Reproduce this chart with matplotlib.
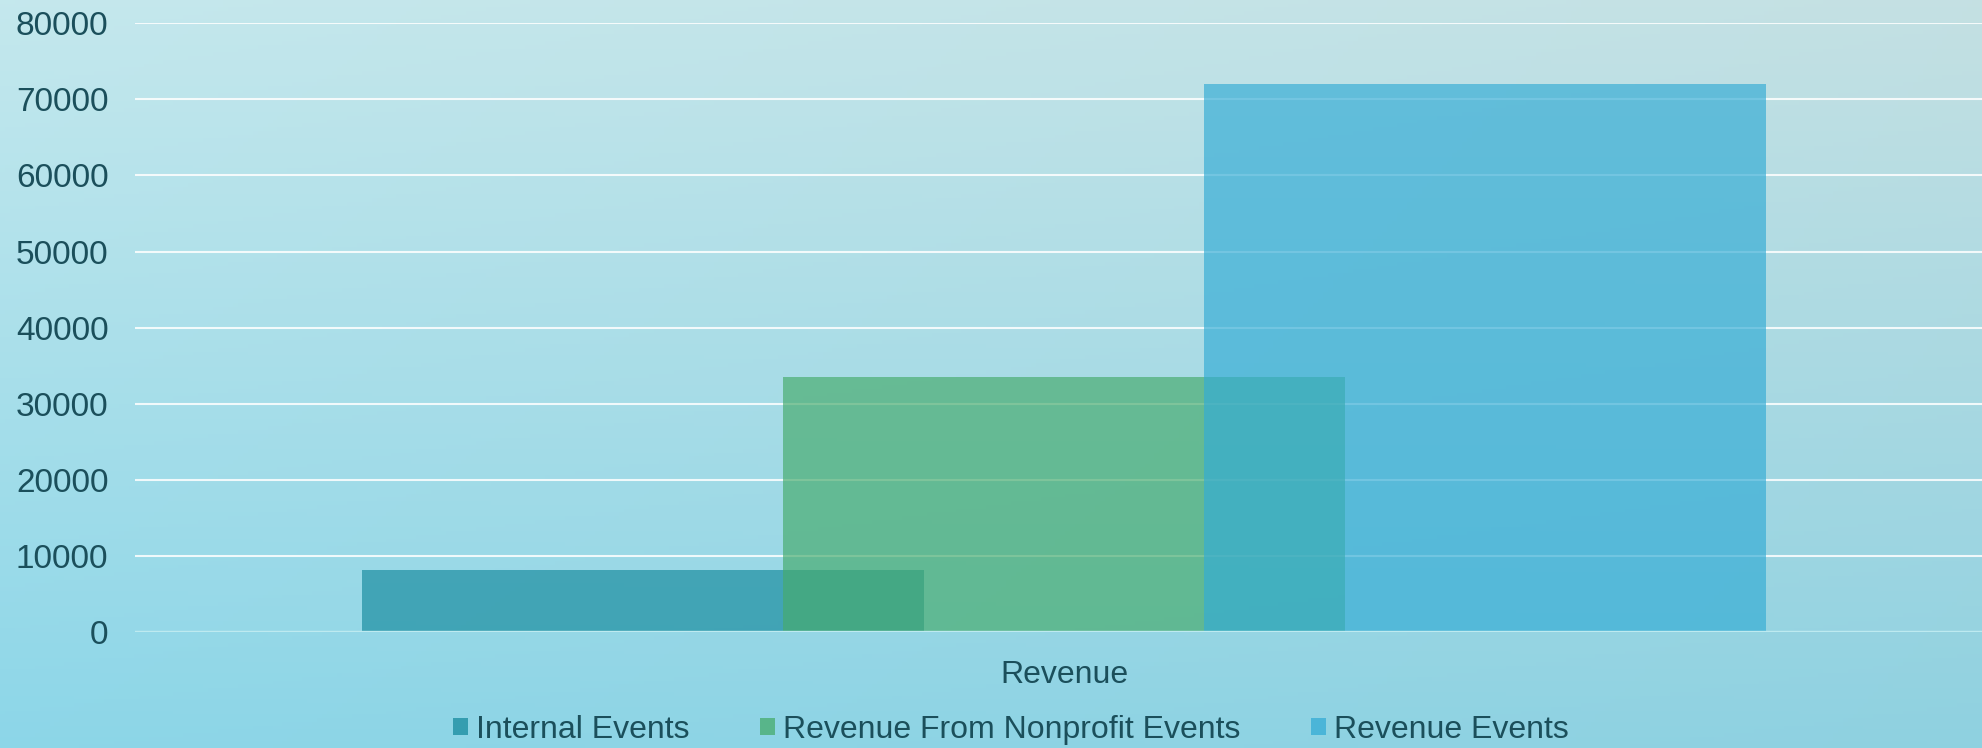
import numpy as np
import matplotlib
matplotlib.use('Agg')
import matplotlib.pyplot as plt
from matplotlib.patches import Patch

# data
category = ['Revenue']
series = ['Internal Events', 'Revenue From Nonprofit Events', 'Revenue Events']
values = [8100, 33500, 72000]
colors = ['#178b9e', '#46ab6c', '#34acd5']
yticks = [0, 10000, 20000, 30000, 40000, 50000, 60000, 70000, 80000]

text_color = '#1b4f5b'
plt.rcParams['font.family'] = ['Liberation Sans', 'DejaVu Sans']

fig = plt.figure(figsize=(19.82, 7.48), dpi=100)

# background gradient
bg = fig.add_axes([0, 0, 1, 1], zorder=-1)
tl = np.array([0.77, 0.91, 0.93])
tr = np.array([0.77, 0.88, 0.89])
bl = np.array([0.55, 0.84, 0.91])
br = np.array([0.56, 0.82, 0.88])
yy, xx = np.mgrid[0:1:200j, 0:1:400j]
img = ((1 - yy)[..., None] * ((1 - xx)[..., None] * tl + xx[..., None] * tr)
       + yy[..., None] * ((1 - xx)[..., None] * bl + xx[..., None] * br))
bg.imshow(img, aspect='auto', extent=[0, 1, 0, 1], origin='upper')
bg.axis('off')

ax = fig.add_axes([0.068, 0.155, 0.932, 0.814])
ax.patch.set_alpha(0)

w = 1.0
offsets = [-0.75, 0, 0.75]
for name, v, c, off in zip(series, values, colors, offsets):
    ax.bar(off * w, v, width=w, color=c, alpha=0.67, label=name, zorder=2,
           linewidth=0)

ax.set_ylim(0, 80000)
ax.set_xlim(-1.655, 1.635)
ax.set_yticks(yticks)
ax.set_yticklabels([str(t) for t in yticks])
ax.set_xticks([0])
ax.set_xticklabels(category)

ax.yaxis.grid(True, color='white', linewidth=1.5, alpha=0.85, zorder=1)
ax.set_axisbelow(True)
ax.axhline(0, color='#bdeaf0', linewidth=2.4, zorder=3)
for s in ax.spines.values():
    s.set_visible(False)
ax.tick_params(axis='y', length=0, pad=19, labelsize=24, labelcolor=text_color)
ax.tick_params(axis='x', length=0, pad=20, labelsize=23, labelcolor=text_color)

handles = [Patch(facecolor=c, alpha=0.75, edgecolor='none', label=n)
           for n, c in zip(series, colors)]
leg = fig.legend(handles=handles, loc='center', bbox_to_anchor=(0.51, 0.024), ncol=3,
                 frameon=False, fontsize=23, handlelength=0.47, handleheight=0.47,
                 handletextpad=0.25, columnspacing=2.2, borderaxespad=0)
for t in leg.get_texts():
    t.set_color(text_color)

fig.savefig('out.png', dpi=100)
